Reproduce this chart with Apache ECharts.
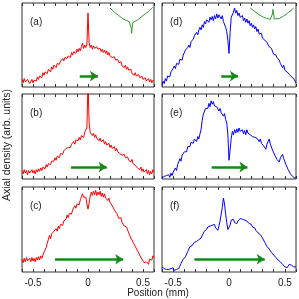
<!DOCTYPE html>
<html>
<head>
<meta charset="utf-8">
<script src="https://cdn.jsdelivr.net/npm/echarts@6/dist/echarts.min.js"></script>
<style>html,body{margin:0;padding:0;background:#fff;}#c{width:299px;height:299px;}</style>
</head>
<body>
<div id="c"></div>
<script>
// Position grid (mm)
const positions = [
-0.60,-0.59,-0.58,-0.57,-0.56,-0.55,-0.54,-0.53,-0.52,-0.51,
-0.50,-0.49,-0.48,-0.47,-0.46,-0.45,-0.44,-0.43,-0.42,-0.41,
-0.40,-0.39,-0.38,-0.37,-0.36,-0.35,-0.34,-0.33,-0.32,-0.31,
-0.30,-0.29,-0.28,-0.27,-0.26,-0.25,-0.24,-0.23,-0.22,-0.21,
-0.20,-0.19,-0.18,-0.17,-0.16,-0.15,-0.14,-0.13,-0.12,-0.11,
-0.10,-0.09,-0.08,-0.07,-0.06,-0.05,-0.04,-0.03,-0.02,-0.01,
0.00,
0.01,0.02,0.03,0.04,0.05,0.06,0.07,0.08,0.09,0.10,
0.11,0.12,0.13,0.14,0.15,0.16,0.17,0.18,0.19,0.20,
0.21,0.22,0.23,0.24,0.25,0.26,0.27,0.28,0.29,0.30,
0.31,0.32,0.33,0.34,0.35,0.36,0.37,0.38,0.39,0.40,
0.41,0.42,0.43,0.44,0.45,0.46,0.47,0.48,0.49,0.50,
0.51,0.52,0.53,0.54,0.55,0.56,0.57,0.58,0.59,0.60];

const densityA = [
0.09,0.05,0.10,0.06,0.04,0.09,0.07,0.04,0.06,0.09,
0.05,0.08,0.10,0.07,0.12,0.09,0.13,0.15,0.11,0.17,
0.14,0.18,0.19,0.16,0.21,0.22,0.18,0.24,0.21,0.26,
0.27,0.23,0.28,0.30,0.27,0.31,0.29,0.34,0.31,0.35,
0.36,0.34,0.37,0.39,0.35,0.41,0.38,0.42,0.44,0.40,
0.45,0.42,0.46,0.43,0.48,0.52,0.46,0.50,0.47,0.51,
0.88,
0.53,0.47,0.50,0.45,0.49,0.46,0.44,0.48,0.45,0.43,
0.46,0.42,0.45,0.41,0.44,0.40,0.43,0.38,0.41,0.37,
0.38,0.35,0.33,0.36,0.32,0.30,0.33,0.29,0.27,0.30,
0.25,0.26,0.23,0.26,0.21,0.24,0.20,0.18,0.21,0.16,
0.18,0.14,0.17,0.13,0.12,0.15,0.11,0.10,0.13,0.09,
0.08,0.11,0.07,0.06,0.10,0.06,0.09,0.05,0.08,0.07];

const densityB = [
0.10,0.06,0.11,0.07,0.10,0.05,0.10,0.07,0.06,0.11,
0.07,0.10,0.06,0.11,0.08,0.12,0.09,0.13,0.10,0.14,
0.15,0.12,0.17,0.14,0.18,0.20,0.17,0.21,0.22,0.21,
0.25,0.22,0.27,0.28,0.25,0.30,0.31,0.29,0.33,0.35,
0.36,0.34,0.37,0.39,0.37,0.41,0.42,0.44,0.41,0.46,
0.47,0.45,0.49,0.46,0.51,0.52,0.49,0.55,0.56,0.60,
1.15,
0.66,0.55,0.55,0.51,0.54,0.49,0.52,0.48,0.49,0.45,
0.48,0.44,0.45,0.46,0.41,0.44,0.40,0.41,0.42,0.37,
0.40,0.36,0.37,0.38,0.33,0.36,0.32,0.33,0.30,0.31,
0.28,0.28,0.29,0.25,0.25,0.26,0.22,0.23,0.20,0.23,
0.18,0.19,0.16,0.16,0.13,0.14,0.11,0.14,0.09,0.12,
0.08,0.09,0.11,0.06,0.10,0.05,0.09,0.06,0.11,0.08];

const densityC = [
0.15,0.11,0.16,0.12,0.17,0.13,0.11,0.16,0.12,0.17,
0.13,0.16,0.12,0.17,0.14,0.18,0.14,0.19,0.16,0.20,
0.22,0.26,0.29,0.34,0.36,0.43,0.39,0.45,0.44,0.48,
0.47,0.51,0.48,0.54,0.51,0.56,0.58,0.55,0.60,0.62,
0.62,0.67,0.64,0.69,0.71,0.68,0.73,0.75,0.78,0.75,
0.80,0.82,0.79,0.85,0.88,0.92,0.88,0.86,0.88,0.80,
0.74,
0.81,0.89,0.94,0.90,0.95,0.91,0.96,0.90,0.94,0.91,
0.95,0.89,0.93,0.88,0.92,0.87,0.88,0.84,0.87,0.82,
0.81,0.78,0.78,0.73,0.73,0.69,0.67,0.63,0.62,0.64,
0.58,0.58,0.54,0.54,0.53,0.51,0.46,0.45,0.40,0.39,
0.35,0.34,0.30,0.29,0.25,0.24,0.20,0.19,0.15,0.14,
0.11,0.10,0.12,0.14,0.09,0.15,0.17,0.14,0.19,0.17];

const densityD = [
0.03,0.07,0.04,0.10,0.07,0.13,0.15,0.12,0.18,0.19,
0.22,0.25,0.22,0.28,0.30,0.27,0.33,0.35,0.32,0.38,
0.40,0.44,0.43,0.47,0.50,0.47,0.54,0.56,0.57,0.61,
0.60,0.65,0.62,0.68,0.71,0.68,0.74,0.71,0.78,0.75,
0.80,0.81,0.77,0.83,0.80,0.84,0.79,0.85,0.81,0.87,
0.82,0.86,0.88,0.81,0.85,0.78,0.76,0.71,0.66,0.55,
0.40,
0.65,0.83,0.85,0.89,0.94,0.88,0.91,0.85,0.88,0.83,
0.83,0.85,0.79,0.82,0.77,0.81,0.76,0.79,0.73,0.76,
0.71,0.74,0.69,0.72,0.66,0.69,0.63,0.61,0.64,0.58,
0.57,0.56,0.54,0.53,0.51,0.48,0.47,0.46,0.44,0.39,
0.39,0.38,0.35,0.34,0.32,0.28,0.28,0.23,0.26,0.20,
0.19,0.18,0.16,0.15,0.13,0.12,0.11,0.10,0.08,0.05];

const densityE = [
0.01,0.00,0.03,0.01,0.04,0.02,0.05,0.02,0.07,0.04,
0.08,0.09,0.13,0.10,0.17,0.20,0.24,0.21,0.28,0.30,
0.32,0.34,0.32,0.38,0.40,0.38,0.43,0.44,0.42,0.47,
0.47,0.44,0.50,0.47,0.53,0.58,0.69,0.76,0.77,0.83,
0.85,0.83,0.89,0.85,0.92,0.88,0.91,0.86,0.86,0.85,
0.84,0.80,0.83,0.78,0.79,0.74,0.77,0.70,0.66,0.52,
0.22,
0.34,0.48,0.56,0.52,0.58,0.54,0.59,0.55,0.60,0.56,
0.56,0.58,0.53,0.57,0.52,0.58,0.54,0.53,0.52,0.51,
0.50,0.50,0.49,0.48,0.48,0.49,0.44,0.47,0.42,0.43,
0.39,0.39,0.35,0.41,0.43,0.47,0.41,0.39,0.34,0.34,
0.28,0.27,0.23,0.24,0.20,0.25,0.25,0.29,0.24,0.22,
0.17,0.16,0.11,0.10,0.06,0.06,0.03,0.04,0.01,0.02];

const densityF = [
0.06,0.05,0.04,0.05,0.03,0.04,0.03,0.02,0.04,0.03,
0.05,0.02,0.04,0.03,0.05,0.04,0.07,0.10,0.12,0.15,
0.14,0.18,0.21,0.24,0.27,0.30,0.32,0.31,0.33,0.35,
0.34,0.36,0.35,0.38,0.37,0.40,0.43,0.45,0.48,0.47,
0.50,0.53,0.51,0.54,0.56,0.55,0.57,0.56,0.52,0.50,
0.49,0.54,0.60,0.68,0.76,0.87,0.80,0.68,0.58,0.50,
0.49,
0.55,0.61,0.59,0.62,0.58,0.56,0.57,0.60,0.62,0.63,
0.61,0.62,0.60,0.61,0.59,0.60,0.58,0.57,0.55,0.56,
0.53,0.51,0.52,0.49,0.48,0.46,0.45,0.44,0.42,0.40,
0.38,0.35,0.33,0.30,0.28,0.27,0.25,0.23,0.22,0.20,
0.19,0.17,0.16,0.14,0.13,0.12,0.10,0.09,0.07,0.06,
0.06,0.05,0.07,0.09,0.10,0.08,0.07,0.06,0.05,0.06];

// Inset potential sketches
const insetAX = [0.20,0.24,0.28,0.32,0.35,0.375,0.387,0.393,0.397,0.401,0.407,0.42,0.45,0.49,0.53,0.56,0.59];
const insetAY = [0.94,0.89,0.85,0.81,0.79,0.78,0.765,0.70,0.64,0.70,0.765,0.78,0.80,0.84,0.88,0.91,0.95];
const insetDX = [0.19,0.23,0.27,0.31,0.34,0.37,0.382,0.389,0.394,0.399,0.406,0.42,0.45,0.49,0.525,0.555,0.58];
const insetDY = [0.94,0.90,0.86,0.83,0.815,0.805,0.81,0.87,0.925,0.87,0.81,0.805,0.815,0.845,0.88,0.91,0.94];

// Green arrows (start, end, height)
const arrowFrom  = [-0.075, -0.155, -0.30, -0.07, -0.155, -0.31];
const arrowTo    = [0.09, 0.17, 0.32, 0.08, 0.165, 0.32];
const arrowLevel = [0.13, 0.14, 0.15, 0.13, 0.14, 0.15];

const panelLabels = ['(a)','(b)','(c)','(d)','(e)','(f)'];
const xTickLabels = ['-0.5','0','0.5'];
const yTitle = 'Axial density (arb. units)';
const xTitle = 'Position (mm)';

const densities = [densityA, densityB, densityC, densityD, densityE, densityF];
const colors = ['#ff0000','#ff0000','#ff0000','#0000ff','#0000ff','#0000ff'];

const FONT = "'Liberation Sans', Arial, Helvetica, sans-serif";
const boxes = [
  {left:22, top:3, width:132, height:84},
  {left:22, top:94, width:132, height:85},
  {left:22, top:187, width:132, height:85},
  {left:162, top:3, width:134, height:84},
  {left:162, top:94, width:134, height:85},
  {left:162, top:187, width:134, height:85}
];

const grids = [], xAxes = [], yAxes = [], series = [], titles = [];
function fmt(v){
  const r = Math.round(v*10)/10;
  const s = (r === 0) ? '0' : String(r);
  return xTickLabels.indexOf(s) >= 0 ? s : '';
}
boxes.forEach((b, i) => {
  grids.push(Object.assign({show:true, borderColor:'#333', borderWidth:1, backgroundColor:'transparent'}, b));
  const bottomRow = (i === 2 || i === 5);
  const base = {gridIndex:i, type:'value', min:-0.6, max:0.6, interval:0.1,
    axisLine:{show:false}, splitLine:{show:false},
    axisTick:{show:true, inside:true, length:3, lineStyle:{color:'#333', width:1}}};
  xAxes.push(Object.assign({}, base, {position:'bottom',
    axisLabel:{show:bottomRow, formatter:fmt, margin:6, fontSize:10, color:'#222', fontFamily:FONT, showMinLabel:true, showMaxLabel:true}}));
  xAxes.push(Object.assign({}, base, {position:'top', axisLabel:{show:false}}));
  yAxes.push({gridIndex:i, type:'value', min:0, max:1, show:false});
  series.push({
    type:'line', xAxisIndex:2*i, yAxisIndex:i, symbol:'none', showSymbol:false,
    data: positions.map((x,k)=>[x, densities[i][k]]),
    lineStyle:{color:colors[i], width:1}, clip:true, z:2,
    markLine:{silent:true, symbol:['none','arrow'], symbolSize:8, animation:false,
      label:{show:false},
      lineStyle:{color:'#148a14', width:2.5, type:'solid'},
      emphasis:{disabled:true},
      data:[[{coord:[arrowFrom[i], arrowLevel[i]]},{coord:[arrowTo[i], arrowLevel[i]]}]]}
  });
  titles.push({text:panelLabels[i], left:b.left+3, top:b.top+9,
    textStyle:{fontSize:10, fontWeight:'normal', color:'#222', fontFamily:FONT}});
});
series.push({type:'line', xAxisIndex:0, yAxisIndex:0, symbol:'none',
  data: insetAX.map((x,k)=>[x, insetAY[k]]), lineStyle:{color:'#2e9e2e', width:1}, z:3});
series.push({type:'line', xAxisIndex:6, yAxisIndex:3, symbol:'none',
  data: insetDX.map((x,k)=>[x, insetDY[k]]), lineStyle:{color:'#2e9e2e', width:1}, z:3});

const chart = echarts.init(document.getElementById('c'), null, {renderer:'canvas'});
chart.setOption({
  animation:false,
  backgroundColor:'#fff',
  title: titles,
  grid: grids, xAxis: xAxes, yAxis: yAxes, series: series,
  graphic:[
    {type:'text', x:7, y:145, rotation:Math.PI/2,
      style:{text:yTitle, font:'10.5px '+FONT, fill:'#222', align:'center', verticalAlign:'middle', textAlign:'center', textVerticalAlign:'middle'}},
    {type:'text', x:158, y:293,
      style:{text:xTitle, font:'10px '+FONT, fill:'#222', align:'center', verticalAlign:'middle', textAlign:'center', textVerticalAlign:'middle'}}
  ]
});
</script>
</body>
</html>
